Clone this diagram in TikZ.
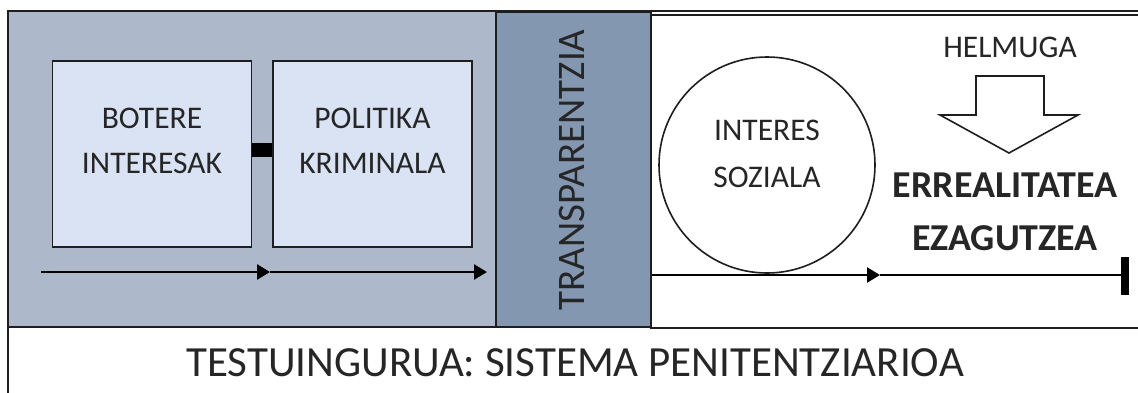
\documentclass[tikz,border=0pt]{standalone}
\usepackage{fontspec}
\setmainfont{Carlito}
\usetikzlibrary{arrows.meta}
\definecolor{greyblue}{HTML}{ADB9CA}
\definecolor{colblue}{HTML}{8497B0}
\definecolor{boxfill}{HTML}{DAE3F3}
\definecolor{ink}{HTML}{1E1E1E}
\definecolor{txt}{HTML}{262626}
\begin{document}
\begin{tikzpicture}[x=1pt,y=-1pt,
  frame/.style={draw=ink,line width=1.6pt},
  boxnode/.style={draw=ink,line width=1.6pt,fill=boxfill,minimum width=199pt,minimum height=186pt,inner sep=0pt},
  lbl/.style={text=txt,align=center,font=\fontsize{31.5}{45}\selectfont,inner sep=0pt},
  flow/.style={draw=black,line width=2.6pt,-{Triangle[length=13pt,width=15pt]}},
]
\useasboundingbox (0,0) rectangle (1138,392);
\fill[white] (0,0) rectangle (1138,392);
% outer frame and regions
\draw[frame] (8,11) rectangle (1150,410);
\path[frame,fill=greyblue] (8,11) rectangle (496,327);
\path[frame,fill=white] (651,15) rectangle (1150,328);
\path[frame,fill=colblue] (496,12) rectangle (651,327);
\node[lbl,font=\fontsize{39}{40}\selectfont,rotate=90] (transp) at (572,170) {TRANSPARENTZIA};
% boxes
\node[boxnode] (botere) at (152,154) {};
\node[boxnode] (politika) at (372.5,154) {};
\node[lbl] (boteretxt) at (152,141) {BOTERE\\INTERESAK};
\node[lbl] (politikatxt) at (372.5,141) {POLITIKA\\KRIMINALA};
\draw[black,line width=14pt] ([yshift=4.5pt]botere.east) -- ([yshift=4.5pt]politika.west);
% lower left arrows
\coordinate (a0) at (41,272);
\coordinate (a1) at (270,272);
\coordinate (a2) at (487,272);
\draw[flow] (a0) -- (a1);
\draw[flow] (a1) -- (a2);
% circle
\node[draw=ink,line width=1.6pt,circle,minimum size=216pt,inner sep=0pt] (circ) at (767,165) {};
\node[lbl,font=\fontsize{31.5}{47}\selectfont] (interes) at (767,153.5) {INTERES\\SOZIALA};
% right line
\coordinate (r0) at (652,275);
\coordinate (r1) at (880,275);
\coordinate (r2) at (1125,275);
\coordinate (bt) at (1125,257);
\coordinate (bb) at (1125,295);
\draw[flow] (r0) -- (r1);
\draw[black,line width=1.6pt] (r1) -- (r2);
\draw[black,line width=8pt] (bt) -- (bb);
% helmuga
\node[lbl] (helmuga) at (1010,47) {HELMUGA};
\path[draw=ink,line width=1.6pt,fill=white,line join=miter] (976,76) -- (1044,76) -- (1044,115) -- (1078,115) -- (1009,153) -- (940,115) -- (976,115) -- cycle;
\node[lbl,font=\fontsize{38}{53}\selectfont\bfseries] (erreal) at (1005,211.5) {ERREALITATEA\\EZAGUTZEA};
% bottom title
\node[lbl,font=\fontsize{43}{44}\selectfont] (testu) at (575,363) {TESTUINGURUA: SISTEMA PENITENTZIARIOA};
\end{tikzpicture}
\end{document}
